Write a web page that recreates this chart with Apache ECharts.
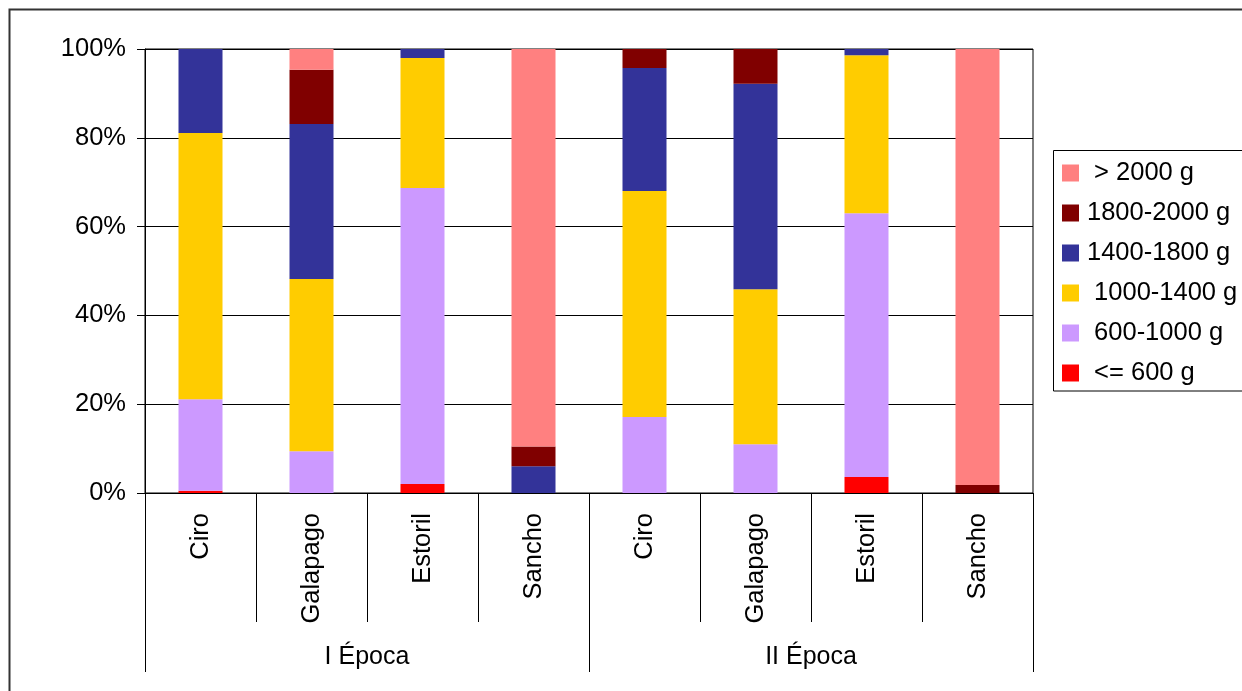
<!DOCTYPE html>
<html>
<head>
<meta charset="utf-8">
<script src="https://cdn.jsdelivr.net/npm/echarts@6/dist/echarts.min.js"></script>
<style>html,body{margin:0;padding:0;background:#fff;}#c{width:1242px;height:691px;}</style>
</head>
<body>
<div id="c"></div>
<script>
var categories = ['Ciro', 'Galapago', 'Estoril', 'Sancho', 'Ciro', 'Galapago', 'Estoril', 'Sancho'];
var groups = ['I Época', 'II Época'];
var seriesNames = [' <= 600 g', ' 600-1000 g', ' 1000-1400 g', '1400-1800 g', '1800-2000 g', ' > 2000 g'];
var le600      = [0.5, 0,    2.0,  0,    0,    0,    3.6,  0];
var r600_1000  = [20.6, 9.4, 66.7, 0,    17.1, 11.0, 59.4, 0];
var r1000_1400 = [60.0, 38.8, 29.3, 0,   50.9, 34.9, 35.6, 0];
var r1400_1800 = [18.9, 34.9, 2.0, 6.0,  27.7, 46.3, 1.4,  0];
var r1800_2000 = [0,   12.2, 0,    4.5,  4.3,  7.8,  0,    1.8];
var gt2000     = [0,   4.7,  0,    89.5, 0,    0,    0,    98.2];
var yTicks = [0, 20, 40, 60, 80, 100];

var seriesData = [le600, r600_1000, r1000_1400, r1400_1800, r1800_2000, gt2000];
var colors = ['#FF0000', '#CC99FF', '#FFCC00', '#333399', '#800000', '#FF8080'];
var font = 'Liberation Sans, Arial, sans-serif';

var chart = echarts.init(document.getElementById('c'));
chart.setOption({
  animation: false,
  backgroundColor: '#fff',
  graphic: [
    {type: 'rect', shape: {x: 9.5, y: 9.5, width: 1260, height: 720}, style: {fill: 'none', stroke: '#333', lineWidth: 2}, z: 100},
    {type: 'rect', shape: {x: 1053.5, y: 150.5, width: 210, height: 240.5}, style: {fill: 'none', stroke: '#000', lineWidth: 1}, z: 100}
  ],
  legend: {
    orient: 'vertical',
    left: 1062,
    top: 153,
    padding: 0,
    itemGap: 0,
    itemWidth: 17,
    itemHeight: 17,
    icon: 'rect',
    selectedMode: false,
    data: seriesNames.slice().reverse(),
    textStyle: {fontFamily: font, fontSize: 25.5, color: '#000', lineHeight: 40, padding: [0, 0, 0, 3]}
  },
  grid: {left: 145, top: 49, right: 209, bottom: 198, show: true, borderColor: '#000', borderWidth: 1, backgroundColor: 'transparent'},
  xAxis: [
    {
      type: 'category',
      data: categories,
      axisLine: {lineStyle: {color: '#000', width: 1}},
      axisTick: {show: true, length: 129, lineStyle: {color: '#000', width: 1}},
      axisLabel: {rotate: 90, margin: 20, fontFamily: font, fontSize: 25.5, color: '#000'}
    },
    {
      type: 'category',
      data: groups,
      position: 'bottom',
      axisLine: {show: false},
      axisTick: {show: true, length: 179, lineStyle: {color: '#000', width: 1}},
      axisLabel: {margin: 152, fontFamily: font, fontSize: 25, color: '#000'}
    }
  ],
  yAxis: {
    type: 'value',
    min: yTicks[0],
    max: yTicks[yTicks.length - 1],
    interval: 20,
    axisLine: {show: true, lineStyle: {color: '#000', width: 1}},
    axisTick: {show: true, length: 8, lineStyle: {color: '#000'}},
    splitLine: {lineStyle: {color: '#000', width: 1}},
    axisLabel: {formatter: '{value}%', margin: 19, fontFamily: font, fontSize: 25.5, color: '#000'}
  },
  series: seriesNames.map(function (n, i) {
    return {
      name: n,
      type: 'bar',
      stack: 'total',
      barWidth: 44,
      xAxisIndex: 0,
      itemStyle: {color: colors[i]},
      data: seriesData[i]
    };
  })
});
</script>
</body>
</html>
